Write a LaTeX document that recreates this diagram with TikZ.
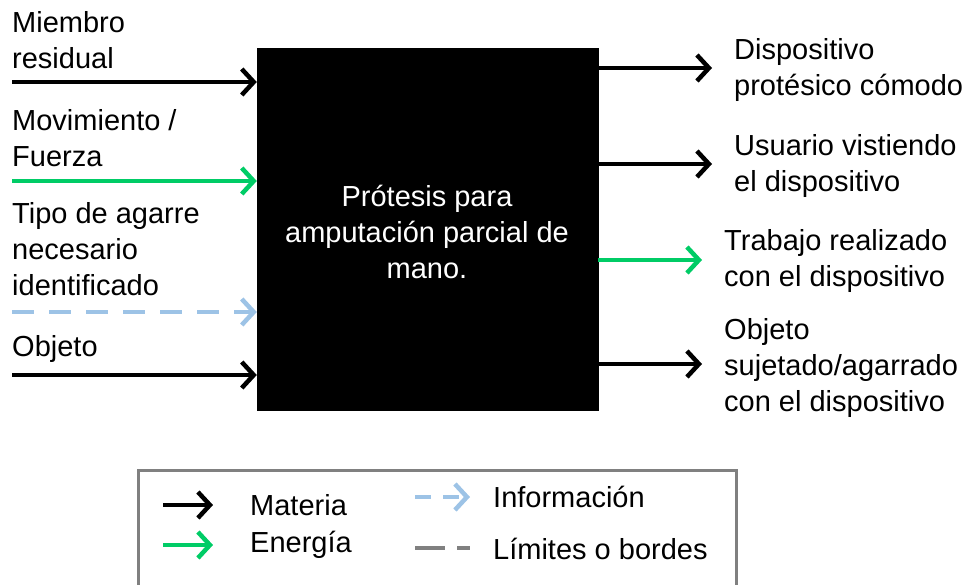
\documentclass[tikz,border=0pt]{standalone}
\usepackage{fontspec}
\setmainfont{Liberation Sans}
\usetikzlibrary{arrows.meta}
\definecolor{energia}{RGB}{0,204,102}
\definecolor{info}{RGB}{157,195,230}
\definecolor{borde}{RGB}{128,128,128}

\begin{document}
\begin{tikzpicture}[x=1pt, y=-1pt, txt/.style={inner sep=0pt, align=left, font=\fontsize{29}{36}\selectfont}, box/.style={fill=black, draw=black, inner sep=0pt}, m/.style={-{Straight Barb[length=12pt, width=26pt]}, line width=4.5pt}, e/.style={m, energia}, inf/.style={m, info, dash pattern=on 22pt off 15pt}, lim/.style={line width=4.5pt, borde, dash pattern=on 30pt off 12pt}]
            \useasboundingbox (0,0) rectangle (967,584);
            % nodes
            \node[box, minimum width=341pt, minimum height=362pt] (sys) at (427.5,229) {};
            \node[txt, white, align=center] (systxt) at (427,232) {Prótesis para\\amputación parcial de\\mano.};
            \node[txt, anchor=west] (miembro) at (12,40) {Miembro\\residual};
            \node[txt, anchor=west] (mov) at (12,138) {Movimiento /\\Fuerza};
            \node[txt, anchor=west] (tipo) at (12,249) {Tipo de agarre\\necesario\\identificado};
            \node[txt, anchor=west] (obj) at (12,349) {Objeto};
            \node[txt, anchor=west] (disp) at (734,70) {Dispositivo\\protésico cómodo};
            \node[txt, anchor=west] (usu) at (734,166) {Usuario vistiendo\\el dispositivo};
            \node[txt, anchor=west] (trab) at (724,261) {Trabajo realizado\\con el dispositivo};
            \node[txt, anchor=west] (sujeto) at (724,368) {Objeto\\sujetado/agarrado\\con el dispositivo};
            \coordinate (in1) at (12,82);
            \coordinate (in2) at (12,181);
            \coordinate (in3) at (12,312);
            \coordinate (in4) at (12,375);
            \coordinate (out1) at (712,68);
            \coordinate (out2) at (712,164);
            \coordinate (out3) at (702,260);
            \coordinate (out4) at (702,364);
            % edges
            \draw[m] (in1) -- (in1 -| sys.west);
            \draw[e] (in2) -- (in2 -| sys.west);
            \draw[inf] (in3) -- (in3 -| sys.west);
            \draw[m] (in4) -- (in4 -| sys.west);
            \draw[m] (out1 -| sys.east) -- (out1);
            \draw[m] (out2 -| sys.east) -- (out2);
            \draw[e] (out3 -| sys.east) -- (out3);
            \draw[m] (out4 -| sys.east) -- (out4);
            % legend
            \draw[borde, line width=3pt] (138,470) rectangle (736,600);
            \coordinate (l1) at (163,505);
            \coordinate (l2) at (163,545);
            \coordinate (l3) at (415,497);
            \coordinate (l4) at (415,548);
            \node[txt, anchor=west] (materia) at (250,505) {Materia};
            \node[txt, anchor=west] (energ) at (250,545) {Energía};
            \node[txt, anchor=west] (infor) at (493,497) {Información};
            \node[txt, anchor=west] (limites) at (493,549) {Límites o bordes};
            \draw[m] (l1) -- ++(50,0);
            \draw[e] (l2) -- ++(50,0);
            \draw[inf, dash pattern=on 16pt off 12pt] (l3) -- ++(55,0);
            \draw[lim] (l4) -- ++(55,0);
        \end{tikzpicture}
\end{document}
